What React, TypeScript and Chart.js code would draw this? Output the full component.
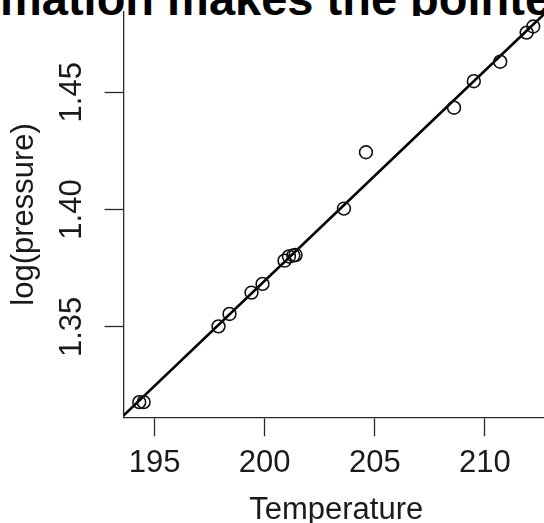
import React, { useEffect, useRef } from "react";
import { Chart, registerables } from "chart.js";

Chart.register(...registerables);

// ---- data (Forbes boiling point data) ----
const titleText = "mation makes the pointe";
const temperature = [
  194.5, 194.3, 197.9, 198.4, 199.4, 199.9, 200.9, 201.1, 201.4, 201.3,
  203.6, 204.6, 209.5, 208.6, 210.7, 211.9, 212.2,
];
const logPressure = [
  1.3179, 1.3179, 1.3502, 1.3555, 1.3646, 1.3683, 1.3782, 1.38, 1.3806,
  1.3804, 1.4004, 1.4244, 1.4547, 1.4434, 1.463, 1.4754, 1.478,
];
// fitted regression line end points (across the x range)
const fitLineX = [193.584, 212.916];
const fitLineY = [1.3122, 1.4853];
const xTicks = [195, 200, 205, 210];
const yTicks = [1.35, 1.4, 1.45];
const xLimits = [193.584, 212.916];
const yLimits = [1.31144, 1.4844];
const xLabel = "Temperature";
const yLabel = "log(pressure)";

const FONT = "'Liberation Sans', Arial, Helvetica, sans-serif";
const TEXT = "#1a1a1a";
const AXIS = "#2a2a2a";

export default function App() {
  const ref = useRef<HTMLCanvasElement | null>(null);

  useEffect(() => {
    const canvas = ref.current;
    if (!canvas) return;
    const zeroPad = (s: any) => {
      s.paddingTop = 0;
      s.paddingBottom = 0;
      s.paddingLeft = 0;
      s.paddingRight = 0;
    };
    const chart = new Chart(canvas, {
      type: "scatter",
      data: {
        datasets: [
          {
            data: temperature.map((t, i) => ({ x: t, y: logPressure[i] })),
            pointStyle: "circle",
            pointRadius: 6.4,
            pointHoverRadius: 6.4,
            pointBorderWidth: 1.6,
            borderWidth: 1.6,
            borderColor: "#111",
            pointBorderColor: "#111",
            backgroundColor: "rgba(0,0,0,0)",
            pointBackgroundColor: "rgba(0,0,0,0)",
          },
          {
            data: fitLineX.map((x, i) => ({ x, y: fitLineY[i] })),
            showLine: true,
            borderColor: "#000",
            borderWidth: 2.6,
            pointRadius: 0,
            pointHoverRadius: 0,
            clip: 0,
          } as any,
        ],
      },
      options: {
        responsive: false,
        animation: false,
        devicePixelRatio: 1,
        events: [],
        layout: { padding: { top: 11.5, right: 11, bottom: 1, left: 0 } },
        plugins: {
          legend: { display: false },
          tooltip: { enabled: false },
          title: { display: false },
        },
        scales: {
          x: {
            type: "linear",
            position: "bottom",
            min: xLimits[0],
            max: xLimits[1],
            afterBuildTicks: (s: any) => {
              s.ticks = xTicks.map((v) => ({ value: v }));
            },
            afterFit: (s: any) => {
              s.height = 111.7;
              zeroPad(s);
            },
            ticks: {
              callback: (v: any) => String(v),
              font: { family: FONT, size: 31 },
              color: TEXT,
              padding: 8.5,
              autoSkip: false,
              minRotation: 0,
              maxRotation: 0,
            },
            grid: {
              display: true,
              drawOnChartArea: false,
              drawTicks: true,
              tickLength: 19,
              tickColor: AXIS,
              tickWidth: 1.3,
            },
            border: { display: true, color: AXIS, width: 1.3 },
            title: {
              display: true,
              text: xLabel,
              font: { family: FONT, size: 31 },
              color: TEXT,
              padding: 0,
            },
          },
          y: {
            type: "linear",
            position: "left",
            min: yLimits[0],
            max: yLimits[1],
            afterBuildTicks: (s: any) => {
              s.ticks = yTicks.map((v) => ({ value: v }));
            },
            afterFit: (s: any) => {
              s.width = 123.5;
              zeroPad(s);
            },
            ticks: {
              callback: (v: any) => Number(v).toFixed(2),
              font: { family: FONT, size: 31 },
              color: TEXT,
              padding: 1.8,
              autoSkip: false,
              minRotation: 90,
              maxRotation: 90,
              crossAlign: "center",
            },
            grid: {
              display: true,
              drawOnChartArea: false,
              drawTicks: true,
              tickLength: 19,
              tickColor: AXIS,
              tickWidth: 1.3,
            },
            border: { display: true, color: AXIS, width: 1.3 },
            title: {
              display: true,
              text: yLabel,
              font: { family: FONT, size: 31 },
              color: TEXT,
              padding: { top: 6.3, bottom: 0 },
            },
          },
        },
      } as any,
    });
    return () => chart.destroy();
  }, []);

  return (
    <div
      style={{
        position: "absolute",
        left: 0,
        top: 0,
        width: 544,
        height: 523,
        overflow: "hidden",
        background: "#fff",
      }}
    >
      <div
        style={{
          position: "absolute",
          left: 0,
          top: 0,
          width: 544,
          height: 15.5,
          overflow: "hidden",
        }}
      >
        <div
          style={{
            position: "absolute",
            left: 0,
            top: -24.8,
            font: `bold 47px ${FONT}`,
            lineHeight: "47px",
            whiteSpace: "nowrap",
            color: "#000",
          }}
        >
          {titleText}
        </div>
      </div>
      <canvas
        ref={ref}
        width={560}
        height={530}
        style={{ position: "absolute", left: 0, top: 0, display: "block" }}
      />
    </div>
  );
}
